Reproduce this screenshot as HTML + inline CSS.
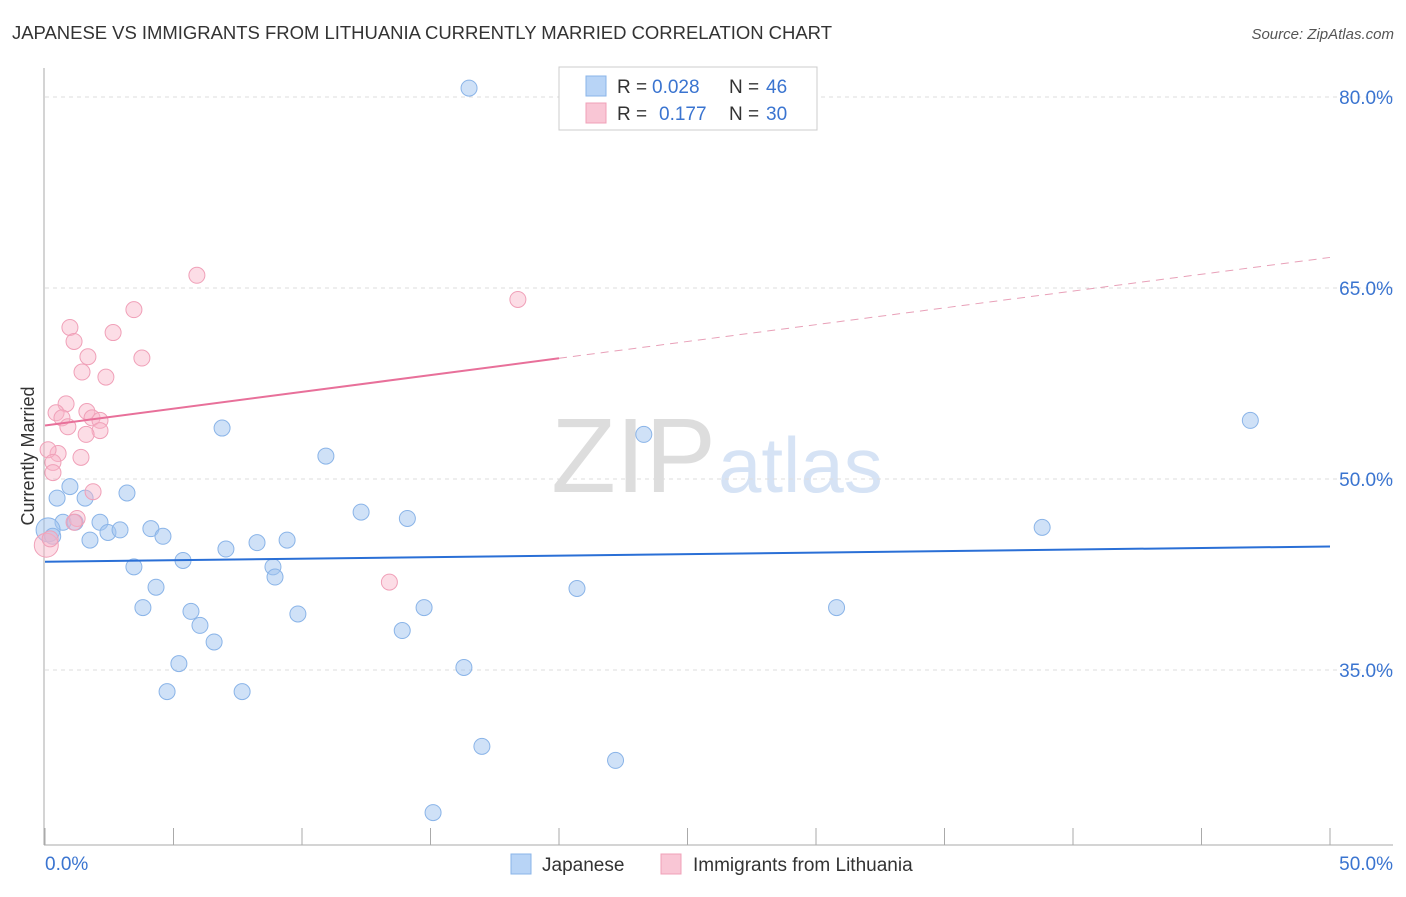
<!DOCTYPE html>
<html><head><meta charset="utf-8"><style>
body{margin:0;background:#fff;font-family:"Liberation Sans",sans-serif}
svg text{font-family:"Liberation Sans",sans-serif}
</style></head><body>
<svg width="1406" height="892" id="c" xmlns="http://www.w3.org/2000/svg">
<text x="12" y="39" font-size="18.5" fill="#333" textLength="820">JAPANESE VS IMMIGRANTS FROM LITHUANIA CURRENTLY MARRIED CORRELATION CHART</text>
<text x="1394" y="39" font-size="15" fill="#555" text-anchor="end" font-style="italic">Source: ZipAtlas.com</text>
<text x="716" y="492" font-size="106" fill="#ddd" text-anchor="end" font-family="Liberation Serif">ZIP</text>
<text x="718" y="492" font-size="78" fill="#d6e3f5">atlas</text>
<text x="34" y="456" font-size="18" fill="#333" text-anchor="middle" transform="rotate(-90 34 456)">Currently Married</text>
<g id="grid"></g><g id="marks"></g>
<g>
<rect x="559" y="67" width="258" height="63" fill="#fff" stroke="#ccc"/>
<rect x="586" y="76" width="20" height="20" fill="#b8d4f6" stroke="#8ab4e8"/>
<rect x="586" y="103" width="20" height="20" fill="#f9c6d5" stroke="#f0a0b8"/>
<text x="617" y="93" font-size="19" fill="#333">R =</text>
<text x="652" y="93" font-size="19" fill="#3a74d0">0.028</text>
<text x="729" y="93" font-size="19" fill="#333">N =</text>
<text x="766" y="93" font-size="19" fill="#3a74d0">46</text>
<text x="617" y="120" font-size="19" fill="#333">R =</text>
<text x="659" y="120" font-size="19" fill="#3a74d0">0.177</text>
<text x="729" y="120" font-size="19" fill="#333">N =</text>
<text x="766" y="120" font-size="19" fill="#3a74d0">30</text>
</g>
<g>
<rect x="511" y="854" width="20" height="20" fill="#b8d4f6" stroke="#8ab4e8"/>
<text x="542" y="871" font-size="19" fill="#333">Japanese</text>
<rect x="661" y="854" width="20" height="20" fill="#f9c6d5" stroke="#f0a0b8"/>
<text x="693" y="871" font-size="19" fill="#333">Immigrants from Lithuania</text>
</g>
</svg>
<script>
const yTicks=[80,65,50,35];
const xTickLabels=["0.0%","50.0%"];
const blueX=[16.5,6.89,10.93,23.3,46.9,0.47,0.97,1.56,3.19,0.70,2.14,2.45,2.92,1.75,4.12,4.59,5.37,7.04,8.25,9.42,8.87,8.95,3.46,4.32,3.81,5.68,6.03,6.58,9.84,12.3,14.1,14.75,13.9,16.3,5.21,4.75,7.67,17.0,20.7,22.2,15.1,30.8,38.8,0.12,1.17,0.3];
const blueY=[80.7,54.0,51.8,53.5,54.6,48.5,49.4,48.5,48.9,46.6,46.6,45.8,46.0,45.2,46.1,45.5,43.6,44.5,45.0,45.2,43.1,42.3,43.1,41.5,39.9,39.6,38.5,37.2,39.4,47.4,46.9,39.9,38.1,35.2,35.5,33.3,33.3,29.0,41.4,27.9,23.8,39.9,46.2,46.0,46.6,45.5];
const pinkX=[5.91,18.4,3.46,0.97,2.65,1.13,1.67,3.77,1.44,2.37,0.82,0.43,1.63,0.66,1.83,2.14,0.89,2.14,1.60,0.51,0.12,1.40,0.31,0.31,1.87,1.25,1.13,13.4,0.05,0.2];
const pinkY=[66.0,64.1,63.3,61.9,61.5,60.8,59.6,59.5,58.4,58.0,55.9,55.2,55.3,54.8,54.8,54.6,54.1,53.8,53.5,52.0,52.3,51.7,51.3,50.5,49.0,46.9,46.6,41.9,44.8,45.3];
const blueTrend=[43.5,44.7];
const pinkTrend=[54.2,67.4];
const NS="http://www.w3.org/2000/svg";
const X=v=>45+v/50*1285, Y=v=>97+(80-v)*12.733;
function mk(t,a,p){const e=document.createElementNS(NS,t);for(const k in a)e.setAttribute(k,a[k]);p.appendChild(e);return e;}
const g=document.getElementById('grid'),m=document.getElementById('marks');
yTicks.forEach(t=>{const l=mk('line',{x1:45,x2:1393,y1:Y(t),y2:Y(t),stroke:'#ddd','stroke-dasharray':'4 4'},g);


const tx=mk('text',{x:1393,y:Y(t)+7,'font-size':19,fill:'#3a74d0','text-anchor':'end'},g);tx.textContent=t.toFixed(1)+'%';

});
const ax=mk('line',{x1:44,x2:44,y1:68,y2:845,stroke:'#aaa'},g);


const bx=mk('line',{x1:44,x2:1393,y1:845,y2:845,stroke:'#aaa'},g);


for(let i=0;i<=10;i++){const t=mk('line',{x1:X(i*5),x2:X(i*5),y1:828,y2:845,stroke:'#aaa'},g);

}
xTickLabels.forEach((s,i)=>{const t=mk('text',{x:i?1393:45,y:870,'font-size':19,fill:'#3a74d0','text-anchor':i?'end':'start'},g);t.textContent=s;

});
blueX.forEach((x,i)=>{const c=mk('circle',{cx:X(x),cy:Y(blueY[i]),r:i==43?12:8,fill:'rgba(160,196,240,0.5)',stroke:'#8ab4e8'},m);

});
pinkX.forEach((x,i)=>{const c=mk('circle',{cx:X(x),cy:Y(pinkY[i]),r:i==28?12:8,fill:'rgba(248,180,200,0.45)',stroke:'#f0a0b8'},m);

});
const bl=mk('line',{x1:X(0),y1:Y(blueTrend[0]),x2:X(50),y2:Y(blueTrend[1]),stroke:'#2a6fd6','stroke-width':2},m);


const pv=v=>pinkTrend[0]+(pinkTrend[1]-pinkTrend[0])*v/50;
const pl=mk('line',{x1:X(0),y1:Y(pv(0)),x2:X(20),y2:Y(pv(20)),stroke:'#e8709a','stroke-width':2},m);


const pd=mk('line',{x1:X(20),y1:Y(pv(20)),x2:X(50),y2:Y(pv(50)),stroke:'#e8a0b8','stroke-width':1,'stroke-dasharray':'8 6'},m);


</script>
</body></html>
